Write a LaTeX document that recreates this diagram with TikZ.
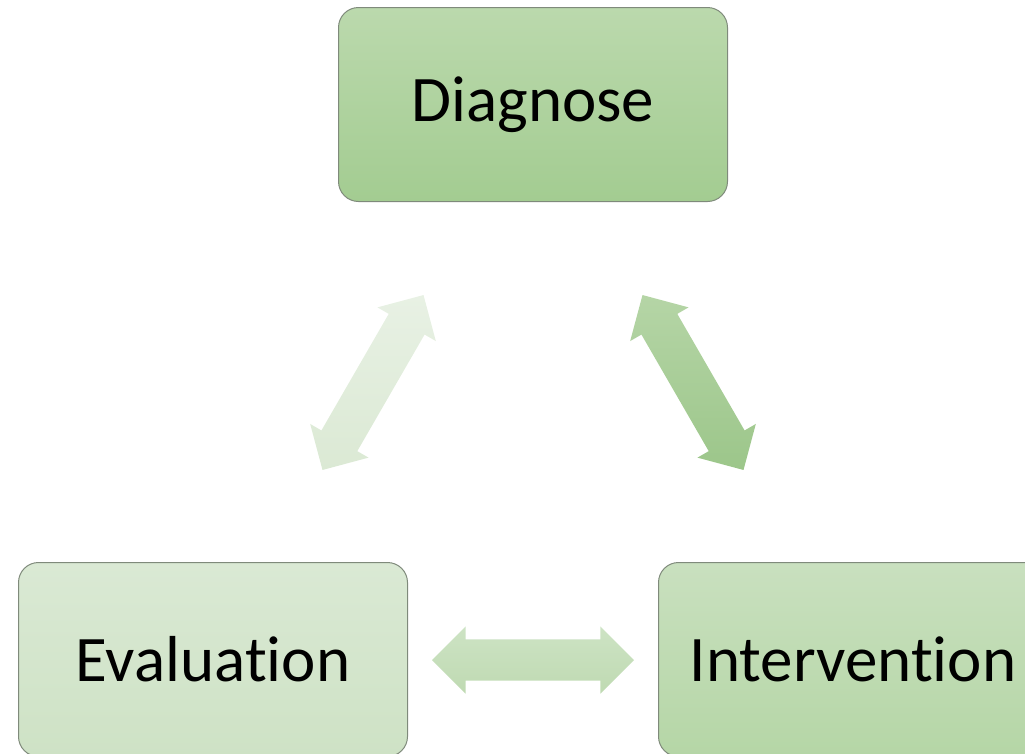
\documentclass[tikz,border=0pt]{standalone}
\usepackage{fontspec}
\setmainfont[Ligatures={NoCommon,NoContextual}, RawFeature={-calt}]{Carlito}
\usetikzlibrary{shapes.arrows}
\definecolor{dgTop}{HTML}{BBD9AD}
\definecolor{dgBot}{HTML}{A3CC91}
\definecolor{inTop}{HTML}{C9E0BF}
\definecolor{inBot}{HTML}{B5D6A6}
\definecolor{evTop}{HTML}{DAE9D4}
\definecolor{evBot}{HTML}{CEE2C5}
\definecolor{laTop}{HTML}{E8F1E4}
\definecolor{laBot}{HTML}{DBE9D4}
\definecolor{raTop}{HTML}{B5D5A6}
\definecolor{raBot}{HTML}{9CC68A}
\definecolor{haTop}{HTML}{CDE3C4}
\definecolor{haBot}{HTML}{BFDAB2}
\definecolor{edge}{HTML}{7F8A7B}
\tikzset{
  stagebox/.style={rectangle, rounded corners=20pt, draw=edge, line width=1pt,
    minimum width=389pt, minimum height=194pt, inner sep=0pt,
    font=\fontsize{65}{78}\selectfont, text=black},
  blockarrow/.style={double arrow, draw=none, minimum height=202pt, minimum width=67pt,
    double arrow head extend=13pt, double arrow tip angle=90,
    inner xsep=0pt, inner ysep=20.5pt, text height=0pt, text depth=0pt, text width=0pt}
}
\begin{document}
\begin{tikzpicture}[x=1pt,y=-1pt]
\useasboundingbox (0,0) rectangle (1025,753);
\node[stagebox, top color=dgTop, bottom color=dgBot] (diag) at (533,104.5) {Diagnose};
\node[stagebox, top color=evTop, bottom color=evBot] (eval) at (213,659.5) {Evaluation};
\node[stagebox, top color=inTop, bottom color=inBot] (interv) at (853,659.5) {Intervention};
\node[blockarrow, rotate=60, shading angle=60, top color=laTop, bottom color=laBot] (larrow) at (373,382.5) {};
\node[blockarrow, rotate=-60, shading angle=-60, top color=raTop, bottom color=raBot] (rarrow) at (693,382.5) {};
\node[blockarrow, top color=haTop, bottom color=haBot] (harrow) at (533,660) {};
\end{tikzpicture}
\end{document}
